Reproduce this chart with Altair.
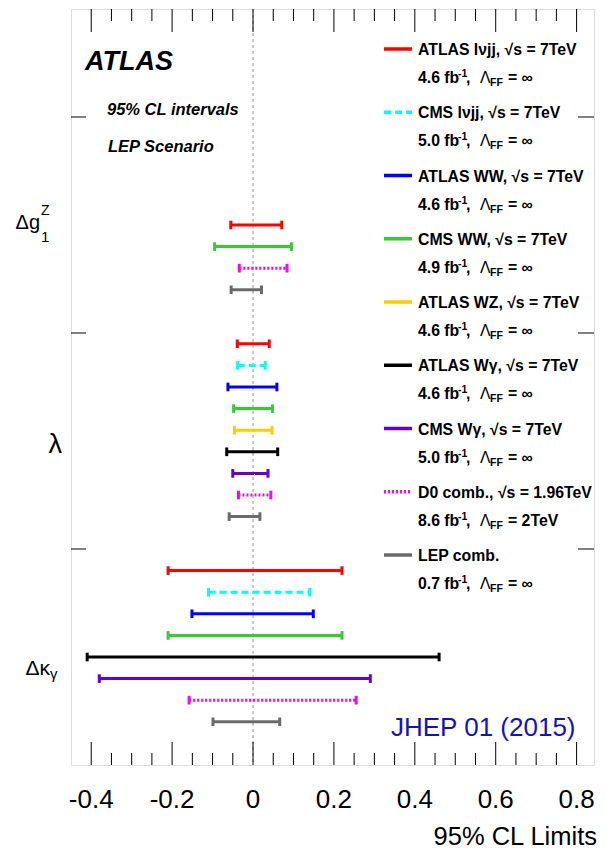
import altair as alt
import pandas as pd

# ---------------- data ----------------
EXPERIMENTS = ["ATLAS lνjj", "CMS lνjj", "ATLAS WW", "CMS WW", "ATLAS WZ",
               "ATLAS Wγ", "CMS Wγ", "D0 comb.", "LEP comb."]
EXP_COLORS = ["#ff0000", "#00ffff", "#0000ff", "#33cc33", "#ffcc00",
              "#000000", "#6600cc", "#ff00ff", "#6b6b6b"]
EXP_STYLES = ["solid", "dashed", "solid", "solid", "solid",
              "solid", "solid", "dotted", "solid"]
LEG_TITLES = ["ATLAS lνjj, √s = 7TeV", "CMS lνjj, √s = 7TeV", "ATLAS WW, √s = 7TeV",
              "CMS WW, √s = 7TeV", "ATLAS WZ, √s = 7TeV", "ATLAS Wγ, √s = 7TeV",
              "CMS Wγ, √s = 7TeV", "D0 comb., √s = 1.96TeV", "LEP comb."]
LEG_LUMI = ["4.6", "5.0", "4.6", "4.9", "4.6", "4.6", "5.0", "8.6", "0.7"]
LEG_LAMBDA = ["∞", "∞", "∞", "∞", "∞", "∞", "∞", "2TeV", "∞"]

# Δg1Z
DG_EXP = ["ATLAS lνjj", "CMS WW", "D0 comb.", "LEP comb."]
DG_LO = [-0.055, -0.095, -0.034, -0.054]
DG_HI = [0.071, 0.095, 0.084, 0.021]
DG_ROW = [10, 11, 12, 13]
# λ
LA_EXP = ["ATLAS lνjj", "CMS lνjj", "ATLAS WW", "CMS WW", "ATLAS WZ",
          "ATLAS Wγ", "CMS Wγ", "D0 comb.", "LEP comb."]
LA_LO = [-0.039, -0.038, -0.062, -0.048, -0.046, -0.065, -0.050, -0.036, -0.059]
LA_HI = [0.040, 0.030, 0.059, 0.048, 0.047, 0.061, 0.037, 0.044, 0.017]
LA_ROW = [15.5, 16.5, 17.5, 18.5, 19.5, 20.5, 21.5, 22.5, 23.5]
# Δκγ
DK_EXP = ["ATLAS lνjj", "CMS lνjj", "ATLAS WW", "CMS WW",
          "ATLAS Wγ", "CMS Wγ", "D0 comb.", "LEP comb."]
DK_LO = [-0.21, -0.11, -0.151, -0.21, -0.41, -0.38, -0.158, -0.099]
DK_HI = [0.22, 0.14, 0.149, 0.22, 0.46, 0.29, 0.255, 0.066]
DK_ROW = [26, 27, 28, 29, 30, 31, 32, 33]

X_MAJOR = [-0.4, -0.2, 0.0, 0.2, 0.4, 0.6, 0.8]
X_LABELS = ["-0.4", "-0.2", "0", "0.2", "0.4", "0.6", "0.8"]
X_MINOR = [round(-0.4 + 0.05 * i, 2) for i in range(25)]
Y_MAJOR = [5, 15, 25]

# ---------------- geometry ----------------
W, H = 523, 756
NSLOT = 35
SLOT = H / NSLOT
FONT = "Liberation Sans"

rows = []
for exps, los, his, rws in [(DG_EXP, DG_LO, DG_HI, DG_ROW),
                            (LA_EXP, LA_LO, LA_HI, LA_ROW),
                            (DK_EXP, DK_LO, DK_HI, DK_ROW)]:
    for e, lo, hi, r in zip(exps, los, his, rws):
        k = EXPERIMENTS.index(e)
        rows.append(dict(exp=e, lo=lo, hi=hi, row=r, color=EXP_COLORS[k], style=EXP_STYLES[k]))
bars = pd.DataFrame(rows)

caps = []
for _, b in bars.iterrows():
    for v in (b.lo, b.hi):
        caps.append(dict(x=v, y0=b.row - 0.2, y1=b.row + 0.2, color=b.color))
caps = pd.DataFrame(caps)

leg = pd.DataFrame(dict(
    title=LEG_TITLES,
    lumi=[l + " fb" for l in LEG_LUMI],
    lam=["= " + v for v in LEG_LAMBDA],
    color=EXP_COLORS,
    style=EXP_STYLES,
    slot=[(40 + 63.25 * i) / SLOT for i in range(len(LEG_TITLES))],
))

xs = alt.Scale(domain=[-0.45, 0.843], nice=False, zero=False)
ys = alt.Scale(domain=[0, NSLOT], reverse=True, nice=False, zero=False)

DASHES = {"solid": [1, 0], "dashed": [7, 4], "dotted": [2, 2]}

layers = []

# zero line
layers.append(alt.Chart(pd.DataFrame({"v": [0.0]})).mark_rule(
    color="#b8b8b8", strokeWidth=1.5, strokeDash=[3, 3]).encode(
    x=alt.X("v:Q", scale=xs, axis=None), y=alt.value(0), y2=alt.value(H)))

# bars
for st, dash in DASHES.items():
    sub = bars[bars["style"] == st]
    if len(sub) == 0:
        continue
    layers.append(alt.Chart(sub).mark_rule(strokeWidth=3, strokeDash=dash).encode(
        x=alt.X("lo:Q", scale=xs, axis=None), x2="hi:Q",
        y=alt.Y("row:Q", scale=ys, axis=None),
        color=alt.Color("color:N", scale=None)))

# caps
layers.append(alt.Chart(caps).mark_rule(strokeWidth=3).encode(
    x=alt.X("x:Q", scale=xs, axis=None),
    y=alt.Y("y0:Q", scale=ys, axis=None), y2="y1:Q",
    color=alt.Color("color:N", scale=None)))

# x ticks (inside, bottom & top)
tmaj = pd.DataFrame({"v": X_MAJOR, "lab": X_LABELS})
tmin = pd.DataFrame({"v": [v for v in X_MINOR if all(abs(v - m) > 1e-6 for m in X_MAJOR)]})
for df, ln in [(tmaj, 23), (tmin, 12)]:
    layers.append(alt.Chart(df).mark_rule(color="black", strokeWidth=1).encode(
        x=alt.X("v:Q", scale=xs, axis=None), y=alt.value(H), y2=alt.value(H - ln)))
    layers.append(alt.Chart(df).mark_rule(color="black", strokeWidth=1).encode(
        x=alt.X("v:Q", scale=xs, axis=None), y=alt.value(0), y2=alt.value(ln)))

# x tick labels
layers.append(alt.Chart(tmaj).mark_text(
    align="center", baseline="alphabetic", font=FONT, fontSize=26, color="black").encode(
    x=alt.X("v:Q", scale=xs, axis=None), y=alt.value(H + 43), text="lab:N"))

# y ticks (left & right)
ymaj = pd.DataFrame({"s": Y_MAJOR})
layers.append(alt.Chart(ymaj).mark_rule(color="black", strokeWidth=1).encode(
    y=alt.Y("s:Q", scale=ys, axis=None), x=alt.value(0), x2=alt.value(15)))
layers.append(alt.Chart(ymaj).mark_rule(color="black", strokeWidth=1).encode(
    y=alt.Y("s:Q", scale=ys, axis=None), x=alt.value(W - 16), x2=alt.value(W)))


def txt(text, x, y, size, align="left", weight="normal", style="normal", color="black"):
    return alt.Chart(pd.DataFrame({"t": [text]})).mark_text(
        align=align, baseline="alphabetic", font=FONT, fontSize=size,
        fontWeight=weight, fontStyle=style, color=color).encode(
        text="t:N", x=alt.value(x), y=alt.value(y))


layers += [
    txt("Δg", -31, 220, 20, align="right"),
    txt("Z", -30, 206, 14),
    txt("1", -30, 233, 15),
    txt("λ", -9, 444, 27, align="right"),
    txt("Δκ", -21, 666, 21, align="right"),
    txt("γ", -21, 670, 15),
    txt("ATLAS", 14, 61, 27, weight="bold", style="italic"),
    txt("95% CL intervals", 36, 106, 16.5, weight="bold", style="italic"),
    txt("LEP Scenario", 37, 143, 16.5, weight="bold", style="italic"),
    txt("JHEP 01 (2015)", 320, 727, 26, color="#1212c4"),
    txt("95% CL Limits", W + 3, H + 80, 25.5, align="right"),
]

# legend
for st, dash in DASHES.items():
    sub = leg[leg["style"] == st]
    layers.append(alt.Chart(sub).mark_rule(strokeWidth=3.5, strokeDash=dash).encode(
        y=alt.Y("slot:Q", scale=ys, axis=None), x=alt.value(313), x2=alt.value(341),
        color=alt.Color("color:N", scale=None)))


def legtext(field, x, dy, size, weight="bold"):
    return alt.Chart(leg).mark_text(align="left", baseline="alphabetic", font=FONT,
                                    fontSize=size, fontWeight=weight, dy=dy, color="black").encode(
        y=alt.Y("slot:Q", scale=ys, axis=None), x=alt.value(x), text=field)


layers += [
    legtext("title:N", 347, 6, 15.8),
    legtext("lumi:N", 347, 34, 15.8),
    legtext(alt.value("-1"), 387, 28, 10.5),
    legtext(alt.value(","), 395, 34, 15.8),
    legtext(alt.value("Λ"), 409, 34, 15.8, weight="normal"),
    legtext(alt.value("FF"), 419, 37, 10.5),
    legtext("lam:N", 437, 34, 15.8),
]

chart = alt.layer(*layers).properties(
    width=W, height=H,
    autosize=alt.AutoSizeParams(type="none"),
    padding={"left": 63, "top": 1, "right": 4, "bottom": 87},
).configure_view(stroke="black", strokeWidth=1).configure(background="white")

chart.save("out.html", embed_options={"renderer": "svg", "actions": False})
